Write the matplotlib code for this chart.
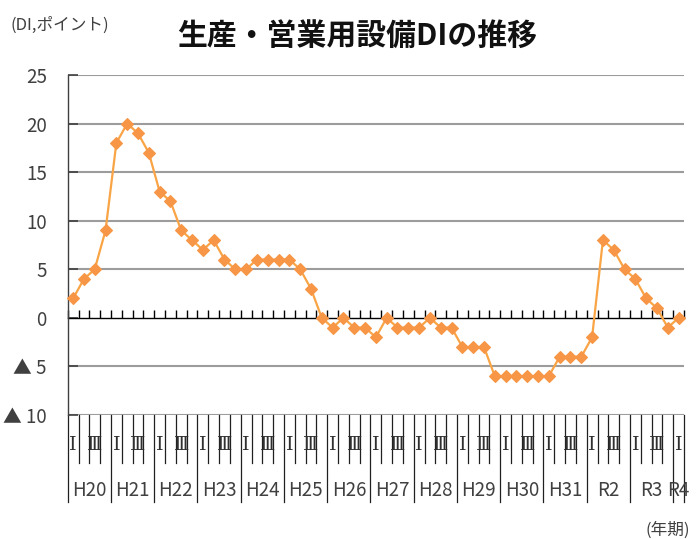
import matplotlib
matplotlib.use('Agg')
import matplotlib.pyplot as plt
from matplotlib.transforms import blended_transform_factory

plt.rcParams['font.family'] = ['Noto Sans CJK JP', 'DejaVu Sans']

# ---- data ----
years = ['H20', 'H21', 'H22', 'H23', 'H24', 'H25', 'H26', 'H27', 'H28',
         'H29', 'H30', 'H31', 'R2', 'R3', 'R4']
quarters_per_year = [4] * 14 + [1]
quarter_labels = ['Ⅰ', '', 'Ⅲ', '']
values = [2, 4, 5, 9,
          18, 20, 19, 17,
          13, 12, 9, 8,
          7, 8, 6, 5,
          5, 6, 6, 6,
          6, 5, 3, 0,
          -1, 0, -1, -1,
          -2, 0, -1, -1,
          -1, 0, -1, -1,
          -3, -3, -3, -6,
          -6, -6, -6, -6,
          -6, -4, -4, -4,
          -2, 8, 7, 5,
          4, 2, 1, -1,
          0]
yticks = [-10, -5, 0, 5, 10, 15, 20, 25]
ytick_labels = ['▲ 10', '▲ 5', '0', '5', '10', '15', '20', '25']
title = '生産・営業用設備DIの推移'
unit_label = '(DI,ポイント)'
xunit_label = '(年期)'

W, H = 698, 539
fig = plt.figure(figsize=(W / 100, H / 100), dpi=100)
left_px, right_px, top_px, bot_px = 67.7, 684, 75, 415
ax = fig.add_axes([left_px / W, 1 - bot_px / H, (right_px - left_px) / W, (bot_px - top_px) / H])

n = len(values)
xs = list(range(n))
ax.set_xlim(-0.5, n - 0.5)
ax.set_ylim(-10, 25)

for y in yticks:
    if y != 0:
        ax.axhline(y, color='#9C9C9C', lw=1.5, zorder=1)

ax.plot(xs, values, color='#F9A445', lw=1.6, marker='D', ms=6.2,
        mfc='#F79646', mec='#F79646', mew=0.8, zorder=3, clip_on=False)

# spines
for s in ['top', 'right']:
    ax.spines[s].set_visible(False)
ax.spines['left'].set_color('#404040')
ax.spines['left'].set_linewidth(1.0)
ax.spines['bottom'].set_position(('data', 0))
ax.spines['bottom'].set_color('black')
ax.spines['bottom'].set_linewidth(1.0)
ax.spines['bottom'].set_zorder(2)

ax.set_xticks([k - 0.5 for k in range(n + 1)])
ax.set_xticklabels([])
ax.tick_params(axis='x', direction='in', length=6, width=1, color='black')
ax.set_yticks(yticks)
ax.set_yticklabels(ytick_labels, fontsize=13.5, color='#404040')
ax.tick_params(axis='y', direction='in', length=7, width=1.2, color='#404040', pad=15)

# category table below
trans = blended_transform_factory(ax.transData, ax.transAxes)
ah = bot_px - top_px
short_y = -(463 - bot_px) / ah
long_y = -(502 - bot_px) / ah
year_starts = []
acc = 0
for q in quarters_per_year:
    year_starts.append(acc)
    acc += q
boundaries_long = set(year_starts + [n])
for k in range(n + 1):
    yb = long_y if k in boundaries_long else short_y
    ax.plot([k - 0.5, k - 0.5], [0, yb], color='#202020', lw=0.9,
            transform=trans, clip_on=False)

qy = -(445 - bot_px) / ah
for i in range(n):
    lab = quarter_labels[i % 4]
    if lab:
        ax.text(i, qy, lab, transform=trans, ha='center', va='center',
                fontsize=14, color='#303030', family=['Liberation Serif', 'DejaVu Serif'])

yy = -(490 - bot_px) / ah
for j, (yr, q) in enumerate(zip(years, quarters_per_year)):
    c = year_starts[j] + (q - 1) / 2
    ax.text(c, yy, yr, transform=trans, ha='center', va='center',
            fontsize=13.5, color='#404040')

fig.text(357 / W, 1 - 36 / H, title, ha='center', va='center',
         fontsize=21.5, fontweight='bold', color='#111111')
fig.text(10 / W, 1 - 25 / H, unit_label, ha='left', va='center',
         fontsize=12, color='#404040')
fig.text(690 / W, 1 - 530 / H, xunit_label, ha='right', va='center',
         fontsize=12, color='#404040')

fig.savefig('out.png', dpi=100)
